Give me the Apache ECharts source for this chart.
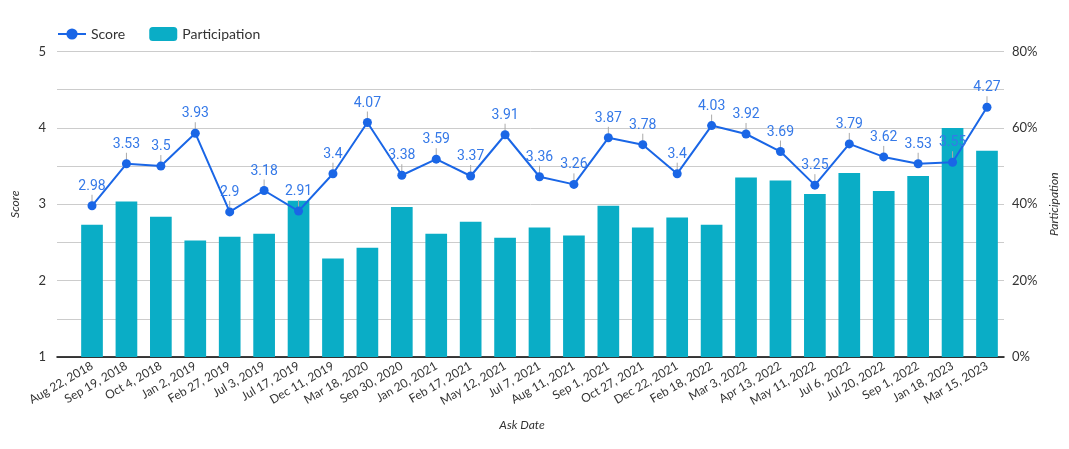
<!DOCTYPE html>
<html>
<head>
<meta charset="utf-8">
<script src="https://cdn.jsdelivr.net/npm/echarts@6/dist/echarts.min.js"></script>
<style>
html,body{margin:0;padding:0;background:#fff;}
#chart{width:1069px;height:449px;}
</style>
</head>
<body>
<div id="chart"></div>
<script>
const categories = ['Aug 22, 2018','Sep 19, 2018','Oct 4, 2018','Jan 2, 2019','Feb 27, 2019','Jul 3, 2019','Jul 17, 2019','Dec 11, 2019','Mar 18, 2020','Sep 30, 2020','Jan 20, 2021','Feb 17, 2021','May 12, 2021','Jul 7, 2021','Aug 11, 2021','Sep 1, 2021','Oct 27, 2021','Dec 22, 2021','Feb 18, 2022','Mar 3, 2022','Apr 13, 2022','May 11, 2022','Jul 6, 2022','Jul 20, 2022','Sep 1, 2022','Jan 18, 2023','Mar 15, 2023'];
const scores = [2.98,3.53,3.5,3.93,2.9,3.18,2.91,3.4,4.07,3.38,3.59,3.37,3.91,3.36,3.26,3.87,3.78,3.4,4.03,3.92,3.69,3.25,3.79,3.62,3.53,3.55,4.27];
const participation = [34.6,40.7,36.7,30.5,31.5,32.3,40.9,25.8,28.6,39.3,32.3,35.4,31.2,33.9,31.8,39.6,33.9,36.5,34.6,47.0,46.2,42.7,48.2,43.5,47.4,60.0,54.0];
const scoreTicks = [1,2,3,4,5];
const pctTicks = [0,20,40,60,80];

const chart = echarts.init(document.getElementById('chart'), null, {renderer:'canvas'});
const lineColor = '#1a66e6';
const barColor = '#0aadc6';
const txt = '#333333';
const gridTop = 51.5, gridBottom = 92, gridRight = 65;

chart.setOption({
  animation: false,
  textStyle: {fontFamily: 'Lato'},
  legend: {
    data: ['Score','Participation'],
    left: 52, top: 22,
    itemWidth: 28, itemHeight: 14, itemGap: 24,
    textStyle: {fontFamily:'Lato', fontSize: 14, color: txt}
  },
  grid: [
    {left: 57, right: gridRight, top: gridTop, bottom: gridBottom},
    {left: 74.8, right: 64.8, top: gridTop, bottom: gridBottom}
  ],
  xAxis: [
    {gridIndex:0, type:'value', min:0, max:1,
     axisLine:{show:true, lineStyle:{color:'#000', width:1.5}},
     axisTick:{show:false}, axisLabel:{show:false}, splitLine:{show:false},
     name:'Ask Date', nameLocation:'middle', nameGap:62,
     nameTextStyle:{fontFamily:'Lato', fontStyle:'italic', fontSize:12, color:txt, padding:[0,17,0,0]}},
    {gridIndex:1, type:'category', data: categories,
     axisLine:{show:false}, axisTick:{show:false},
     axisLabel:{rotate:30, fontFamily:'Lato', fontSize:12, color:txt, margin:8, interval:0}}
  ],
  yAxis: [
    {gridIndex:0, type:'value', min:1, max:5, interval:0.5, position:'left',
     axisLine:{show:false}, axisTick:{show:false},
     axisLabel:{fontFamily:'Lato', fontSize:13, color:txt, margin:11,
       formatter: v => scoreTicks.includes(v) ? String(v) : ''},
     splitLine:{show:true, lineStyle:{color:'#cccccc', width:1}},
     name:'Score', nameLocation:'middle', nameRotate:90, nameGap:36,
     nameTextStyle:{fontFamily:'Lato', fontStyle:'italic', fontSize:12, color:txt}},
    {gridIndex:0, type:'value', min:0, max:80, interval:10, position:'right',
     axisLine:{show:false}, axisTick:{show:false},
     axisLabel:{fontFamily:'Lato', fontSize:13, color:txt, margin:8,
       formatter: v => pctTicks.includes(v) ? v + '%' : ''},
     splitLine:{show:false},
     name:'Participation', nameLocation:'middle', nameRotate:90, nameGap:38,
     nameTextStyle:{fontFamily:'Lato', fontStyle:'italic', fontSize:12, color:txt}},
    {gridIndex:1, type:'value', min:1, max:5, show:false},
    {gridIndex:1, type:'value', min:0, max:80, show:false}
  ],
  series: [
    {name:'Participation', type:'bar', xAxisIndex:1, yAxisIndex:3, data: participation,
     barCategoryGap:'37%', itemStyle:{color:barColor}, z:1},
    {name:'leader', type:'custom', xAxisIndex:1, yAxisIndex:2,
     data: scores.map((v,i)=>[i,v]), z:2,
     renderItem: (params, api) => {
       const p = api.coord([api.value(0), api.value(1)]);
       return {type:'line', shape:{x1:p[0], y1:p[1], x2:p[0], y2:p[1]-11},
               style:{stroke:'#aaaaaa', lineWidth:1}};
     }},
    {name:'Score', type:'line', xAxisIndex:1, yAxisIndex:2, data: scores,
     symbol:'circle', symbolSize:9, z:3,
     lineStyle:{color:lineColor, width:2}, itemStyle:{color:lineColor},
     label:{show:true, position:'top', distance:8, fontFamily:'Roboto', fontSize:14, color:'#3579e8'}}
  ]
});
</script>
</body>
</html>
